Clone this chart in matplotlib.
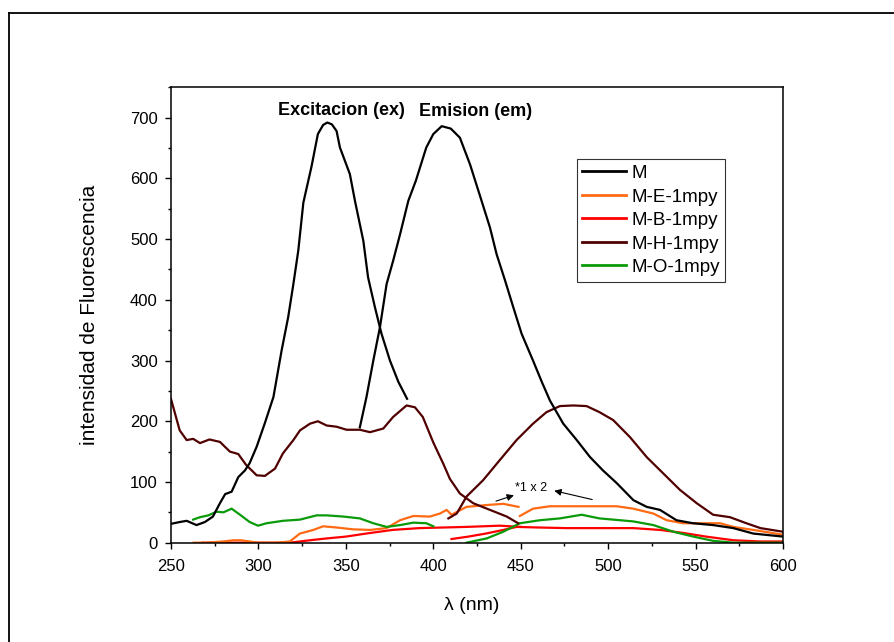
import matplotlib
matplotlib.use("Agg")
import matplotlib.pyplot as plt
from matplotlib.lines import Line2D
from matplotlib.ticker import MultipleLocator

plt.rcParams["font.family"] = ["Liberation Sans", "DejaVu Sans"]

# M: excitation and emission spectra
m_ex_x = [250, 255, 259, 264.6, 269.4, 274, 278, 281, 284.7, 288.5, 292.3, 295, 299, 303.7, 308.6,
          313.3, 317, 320, 322.8, 325.7, 330.4, 334, 337, 339.4, 342, 344.7, 346.6, 352.3, 355.2, 360,
          362.7, 366.6, 370.4, 375.2, 380, 385]
m_ex_y = [31, 34, 36, 29, 34, 43, 65, 80, 84, 108, 119, 131, 158, 197, 240,
          317, 371, 426, 481, 560, 620, 673, 688, 692, 689, 678, 651, 607, 563, 497,
          437, 388, 344, 300, 265, 237]
m_em_x = [358, 361.8, 365.7, 369.5, 373.3, 377, 381, 385.7, 390, 396, 400, 404.8, 410, 415.2, 421,
          427.6, 432.4, 436.2, 441, 445.7, 450.5, 457, 462, 466.7, 474.3, 482, 489.6, 497, 504.9,
          514.4, 522, 529.6, 539, 548.5, 560, 571.5, 583, 600]
m_em_y = [190, 240, 300, 355, 426, 464, 508, 563, 596, 651, 673, 686, 682, 667, 623,
          563, 519, 475, 432, 388, 344, 300, 265, 234, 196, 169, 141, 119, 98,
          70, 59, 54, 37, 32, 29, 24, 15, 10]

# M-H-1mpy
h_ex_x = [250, 255, 259, 262.7, 266.6, 272, 278, 283.7, 288.5, 293, 299, 303.7, 309.5, 314, 320,
          323.8, 329.5, 334, 339, 344.7, 350.4, 358, 363.8, 371.4, 377, 384.7, 389.5, 394, 400,
          405.7, 409.5, 415.2, 422.8, 432.4, 442, 448.5]
h_ex_y = [237, 185, 169, 171, 164, 170, 166, 150, 146, 128, 111, 110, 122, 147, 169,
          185, 196, 200, 193, 191, 186, 186, 182, 188, 207, 226, 223, 207, 165,
          130, 105, 81, 65, 54, 43, 32]
h_em_x = [408.6, 413.4, 419, 428.5, 438, 447.6, 457, 464.7, 472.4, 480, 487.6, 495, 502.8, 512.4,
          522, 531.5, 541, 550.6, 560, 569.6, 579, 587, 600]
h_em_y = [40, 48, 76, 103, 136, 169, 196, 215, 225, 226, 225, 215, 202, 174,
          141, 114, 87, 65, 46, 42, 32, 24, 18]

# M-E-1mpy
e_ex_x = [263, 270, 280, 286, 290, 295, 300, 310, 318, 323.7, 331.4, 337, 344.7, 354, 363.8, 373.3,
          381, 388.6, 398, 403.8, 407.6, 410.4, 419, 430.5, 440, 448.7]
e_ex_y = [0, 0, 2, 4, 4, 2, 0, 0, 2, 15, 21, 27, 25, 22, 21, 24,
          37, 44, 43, 48, 54, 46, 59, 62, 64, 59]
e_em_x = [449.5, 457, 466.7, 485.7, 504.8, 514.4, 525.8, 533.4, 543, 552.5, 564, 571.5, 583, 600]
e_em_y = [44, 56, 60, 60, 60, 56, 48, 37, 32, 32, 32, 26, 21, 13]

# M-B-1mpy
b_ex_x = [268, 290, 318, 329.5, 339, 350, 361.5, 376.6, 392, 405.7, 419, 438, 450]
b_ex_y = [0, 0, 0, 4, 7, 10, 15, 21, 24, 25, 26, 28, 26]
b_em_x = [410.4, 420, 430, 440, 447.6, 460, 476, 495, 514.4, 529.6, 543, 556, 571.5, 586.8, 600]
b_em_y = [6, 10, 15, 21, 26, 25, 24, 24, 24, 21, 16, 10, 4, 2, 2]

# M-O-1mpy
o_ex_x = [262.7, 266.6, 271.4, 276, 280, 284.7, 289.5, 295, 299.8, 304.6, 314, 323.8, 333.3, 339,
          348.6, 358, 365.7, 373.3, 381, 388.6, 396, 400]
o_ex_y = [38, 42, 45, 51, 50, 56, 46, 34, 28, 32, 36, 38, 45, 45,
          43, 40, 32, 26, 29, 33, 32, 27]
o_em_x = [419, 430.5, 440, 449.5, 461, 472.4, 484.8, 495, 514.4, 525.8, 537.3, 548.7, 560, 571.5, 600]
o_em_y = [0, 7, 18, 32, 37, 40, 46, 40, 35, 29, 18, 10, 3, 0, 0]

labels = ["M", "M-E-1mpy", "M-B-1mpy", "M-H-1mpy", "M-O-1mpy"]
colors = ["#000000", "#FF6A13", "#FF0000", "#500000", "#0A9A0A"]

series = [
    (m_ex_x, m_ex_y, m_em_x, m_em_y),
    (e_ex_x, e_ex_y, e_em_x, e_em_y),
    (b_ex_x, b_ex_y, b_em_x, b_em_y),
    (h_ex_x, h_ex_y, h_em_x, h_em_y),
    (o_ex_x, o_ex_y, o_em_x, o_em_y),
]

fig = plt.figure(figsize=(8.95, 6.42), dpi=100)
ax = fig.add_axes([0.191, 0.1547, 0.684, 0.7093])

# draw order: lighter curves first, M on top
order = [2, 1, 4, 3, 0]
for i in order:
    ex_x, ex_y, em_x, em_y = series[i]
    ax.plot(ex_x, ex_y, color=colors[i], lw=1.6, solid_joinstyle="round")
    ax.plot(em_x, em_y, color=colors[i], lw=1.6, solid_joinstyle="round")

ax.set_xlim(250, 600)
ax.set_ylim(0, 750)
ax.xaxis.set_major_locator(MultipleLocator(50))
ax.xaxis.set_minor_locator(MultipleLocator(25))
ax.yaxis.set_major_locator(MultipleLocator(100))
ax.yaxis.set_minor_locator(MultipleLocator(50))
ax.set_yticks(range(0, 701, 100))
ax.tick_params(which="major", direction="out", length=4.5, width=1, labelsize=12, pad=5)
ax.tick_params(which="minor", direction="out", length=2.5, width=1)
ax.tick_params(axis="x", which="major", pad=7)
for s in ax.spines.values():
    s.set_linewidth(1.1)

ax.set_xlabel("λ (nm)", fontsize=14)
ax.set_ylabel("intensidad de Fluorescencia", fontsize=15)
ax.xaxis.set_label_coords(0.492, -0.12)
ax.yaxis.set_label_coords(-0.118, 0.5)

ax.text(347.6, 712, "Excitacion (ex)", fontsize=13, fontweight="bold", ha="center", va="center")
ax.text(424, 710, "Emision (em)", fontsize=13, fontweight="bold", ha="center", va="center")

ax.text(455.8, 90, "*1 x 2", fontsize=9, ha="center", va="center")
ax.annotate("", xy=(447.6, 79.5), xytext=(434.3, 67),
            arrowprops=dict(arrowstyle="-|>", color="black", lw=0.8, mutation_scale=10))
ax.annotate("", xy=(467.6, 86.6), xytext=(492.4, 70),
            arrowprops=dict(arrowstyle="-|>", color="black", lw=0.8, mutation_scale=10))

handles = [Line2D([], [], color=c, lw=2) for c in colors]
leg = ax.legend(handles, labels, loc="upper left", bbox_to_anchor=(0.663, 0.842),
                fontsize=13.5, frameon=True, fancybox=False, edgecolor="black",
                handlelength=2.3, handletextpad=0.3, labelspacing=0.34, borderpad=0.3,
                borderaxespad=0)
leg.get_frame().set_linewidth(0.8)

# outer frame (left and top edges visible)
fig.add_artist(Line2D([0.0101, 0.0101], [0.98, -0.01], transform=fig.transFigure, color="black", lw=1.3))
fig.add_artist(Line2D([0.0101, 1.01], [0.98, 0.98], transform=fig.transFigure, color="black", lw=1.3))

fig.savefig("out.png", dpi=100)
